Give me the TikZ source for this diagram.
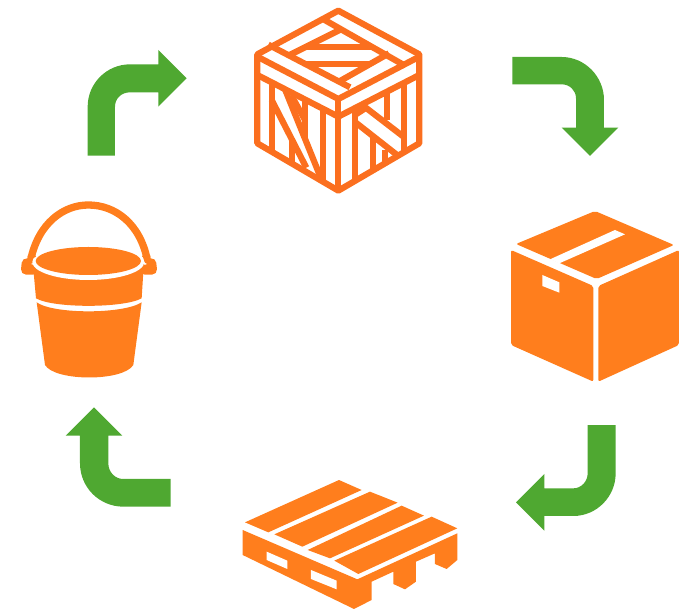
\documentclass[tikz,border=0pt]{standalone}
\definecolor{grn}{HTML}{4FA831}
\definecolor{org}{HTML}{FF7E1D}
\definecolor{crt}{HTML}{FB6F1F}
\tikzset{
  arrowshape/.style={fill=grn,draw=none},
  icon/.style={fill=org,draw=none},
  gap/.style={fill=white,draw=none},
  crate/.style={draw=crt,line width=6.2pt,line join=round,line cap=butt},
  zc/.style={x=0.3333pt,y=-0.3333pt}
}
\begin{document}
\begin{tikzpicture}[x=1pt,y=-1pt]
\useasboundingbox (0,0) rectangle (690,609);
% arrows
\begin{scope}[shift={(75,40)},zc]
\fill[arrowshape] (38,347) -- (120,347) -- (120,200) .. controls (120,175) and (140,157) .. (165,157) -- (250,157) -- (250,200) -- (335,115) -- (250,30) -- (250,73) -- (165,73) .. controls (95,73) and (38,130) .. (38,200) -- cycle;
\end{scope}
\begin{scope}[shift={(505,45)},zc]
\fill[arrowshape] (22,36) -- (170,36) .. controls (240,36) and (297,95) .. (297,165) -- (297,248) -- (340,248) -- (255,333) -- (170,248) -- (213,248) -- (213,160) .. controls (213,136) and (194,118) .. (170,118) -- (22,118) -- cycle;
\end{scope}
\begin{scope}[shift={(505,415)},zc]
\fill[arrowshape] (248,30) -- (332,30) -- (332,175) .. controls (332,245) and (275,303) .. (205,303) -- (118,303) -- (118,347) -- (33,262) -- (118,177) -- (118,220) -- (205,220) .. controls (229,220) and (248,199) .. (248,175) -- cycle;
\end{scope}
\begin{scope}[shift={(60,400)},zc]
\fill[arrowshape] (332,237) -- (332,320) -- (190,320) .. controls (118,320) and (60,262) .. (60,190) -- (60,107) -- (17,107) -- (102,22) -- (187,107) -- (145,107) -- (145,190) .. controls (145,216) and (165,237) .. (190,237) -- cycle;
\end{scope}
% crate
\begin{scope}[shift={(235,0)},zc]
\draw[crate] (310,32) -- (553,163) -- (553,430) -- (310,572) -- (67,430) -- (67,163) -- cycle;
\draw[crate] (67,170) -- (310,297) -- (553,170);
\draw[crate] (67,225) -- (310,350) -- (553,225);
\draw[crate] (310,297) -- (310,572);
% top face
\draw[crate] (262,56) -- (510,197);
\draw[crate] (100,134) -- (345,262);
\draw[crate] (160,167) -- (320,87);
\draw[crate] (310,246) -- (462,160);
\draw[crate] (214,140) -- (410,140);
\draw[crate] (212,192) -- (404,192);
% left face
\draw[crate] (110,247) -- (110,455);
\draw[crate] (110,300) -- (214,503);
\draw[crate] (150,268) -- (258,535);
\draw[crate] (170,417) -- (170,490);
\draw[crate] (170,288) -- (210,360);
\draw[crate] (210,298) -- (210,416);
\draw[crate] (263,326) -- (263,544);
% right face
\draw[crate] (360,324) -- (360,543);
\draw[crate] (415,415) -- (415,511);
\draw[crate] (455,275) -- (455,360);
\draw[crate] (508,248) -- (508,456);
\draw[crate] (378,312) -- (508,412);
\draw[crate] (360,366) -- (490,468);
\draw[crate] (360,345) -- (395,322);
\draw[crate] (450,450) -- (450,487);
\end{scope}
% cardboard box
\begin{scope}[shift={(500,200)},zc]
\fill[icon,rounded corners=2pt] (48,132) -- (285,33) -- (522,135) -- (290,237) -- cycle;
\fill[gap] (150,178) -- (345,90) -- (375,103) -- (178,190) -- cycle;
\fill[icon,rounded corners=2pt] (33,150) -- (280,258) -- (280,545) -- (33,435) -- cycle;
\fill[icon,rounded corners=2pt] (295,258) -- (537,150) -- (537,435) -- (295,545) -- cycle;
\fill[gap] (127,225) -- (178,247) -- (178,278) -- (127,258) -- cycle;
\end{scope}
% pallet
\begin{scope}[shift={(230,470)},zc]
\fill[icon] (45,157) -- (327,30) -- (395,60) -- (115,187) -- cycle;
\fill[icon] (133,193) -- (420,65) -- (503,98) -- (217,230) -- cycle;
\fill[icon] (233,240) -- (515,107) -- (582,137) -- (300,265) -- cycle;
\fill[icon] (313,272) -- (605,140) -- (682,175) -- (385,312) -- cycle;
\fill[icon] (38,180) -- (382,328) -- (682,190) -- (682,270) -- (650,297) -- (615,282) -- (615,250) -- (558,275) -- (558,335) -- (525,358) -- (490,342) -- (490,305) -- (425,335) -- (425,390) -- (372,417) -- (38,255) -- cycle;
\fill[gap] (110,245) -- (172,272) -- (172,297) -- (110,270) -- cycle;
\fill[gap] (243,300) -- (320,332) -- (320,358) -- (243,327) -- cycle;
\end{scope}
% bucket
\begin{scope}[shift={(10,195)},zc]
\draw[org,line width=7.3pt,line cap=round] (62,195) .. controls (85,85) and (160,30) .. (235,30) .. controls (315,30) and (390,85) .. (412,195);
\draw[org,line width=10pt,line cap=round,line join=round] (50,205) -- (48,224) -- (70,224);
\draw[org,line width=10pt,line cap=round,line join=round] (424,205) -- (426,224) -- (404,224);
\fill[icon] (68,200) -- (402,200) -- (395,310) .. controls (340,340) and (130,340) .. (78,310) -- cycle;
\fill[icon] (80,322) .. controls (130,358) and (340,358) .. (395,322) -- (370,510) .. controls (340,560) and (135,560) .. (105,510) -- cycle;
\fill[gap] (235,201) ellipse [x radius=168,y radius=54];
\fill[org] (235,198) ellipse [x radius=158,y radius=42];
\draw[org,line width=7.3pt] (62,178) -- (68,190);
\draw[org,line width=7.3pt] (412,178) -- (406,190);
\end{scope}
\end{tikzpicture}
\end{document}
